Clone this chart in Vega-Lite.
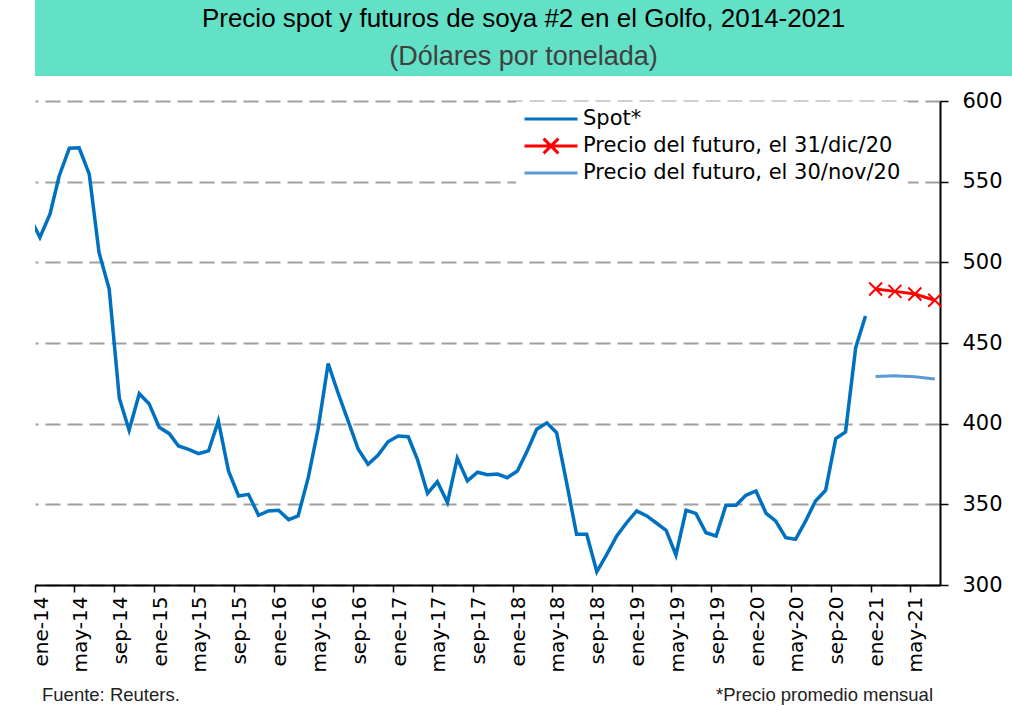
{
  "$schema": "https://vega.github.io/schema/vega-lite/v6.json",
  "background": "#FFFFFF",
  "padding": {"left": 31, "top": 0, "right": 0, "bottom": 0},
  "spacing": 14,
  "resolve": {"legend": {"color": "independent"}},
  "config": {"view": {"stroke": null}, "font": "DejaVu Sans"},
  "datasets": {
    "soya": [
      {"date": "2013-12-16", "value": 528, "series": "Spot*"},
      {"date": "2014-01-16", "value": 515.5, "series": "Spot*"},
      {"date": "2014-02-16", "value": 530, "series": "Spot*"},
      {"date": "2014-03-16", "value": 553.5, "series": "Spot*"},
      {"date": "2014-04-16", "value": 570.7, "series": "Spot*"},
      {"date": "2014-05-16", "value": 571, "series": "Spot*"},
      {"date": "2014-06-16", "value": 554.6, "series": "Spot*"},
      {"date": "2014-07-16", "value": 506, "series": "Spot*"},
      {"date": "2014-08-16", "value": 483.4, "series": "Spot*"},
      {"date": "2014-09-16", "value": 415.8, "series": "Spot*"},
      {"date": "2014-10-16", "value": 395.9, "series": "Spot*"},
      {"date": "2014-11-16", "value": 418.6, "series": "Spot*"},
      {"date": "2014-12-16", "value": 412.4, "series": "Spot*"},
      {"date": "2015-01-16", "value": 397.8, "series": "Spot*"},
      {"date": "2015-02-16", "value": 393.8, "series": "Spot*"},
      {"date": "2015-03-16", "value": 386.2, "series": "Spot*"},
      {"date": "2015-04-16", "value": 384.1, "series": "Spot*"},
      {"date": "2015-05-16", "value": 381.4, "series": "Spot*"},
      {"date": "2015-06-16", "value": 383.1, "series": "Spot*"},
      {"date": "2015-07-16", "value": 401.7, "series": "Spot*"},
      {"date": "2015-08-16", "value": 370.7, "series": "Spot*"},
      {"date": "2015-09-16", "value": 355.2, "series": "Spot*"},
      {"date": "2015-10-16", "value": 356.2, "series": "Spot*"},
      {"date": "2015-11-16", "value": 343.2, "series": "Spot*"},
      {"date": "2015-12-16", "value": 345.9, "series": "Spot*"},
      {"date": "2016-01-16", "value": 346.3, "series": "Spot*"},
      {"date": "2016-02-16", "value": 340.5, "series": "Spot*"},
      {"date": "2016-03-16", "value": 342.8, "series": "Spot*"},
      {"date": "2016-04-16", "value": 366.5, "series": "Spot*"},
      {"date": "2016-05-16", "value": 396.5, "series": "Spot*"},
      {"date": "2016-06-16", "value": 437.3, "series": "Spot*"},
      {"date": "2016-07-16", "value": 419.2, "series": "Spot*"},
      {"date": "2016-08-16", "value": 401.7, "series": "Spot*"},
      {"date": "2016-09-16", "value": 384.1, "series": "Spot*"},
      {"date": "2016-10-16", "value": 374.8, "series": "Spot*"},
      {"date": "2016-11-16", "value": 380.6, "series": "Spot*"},
      {"date": "2016-12-16", "value": 388.8, "series": "Spot*"},
      {"date": "2017-01-16", "value": 392.4, "series": "Spot*"},
      {"date": "2017-02-16", "value": 391.9, "series": "Spot*"},
      {"date": "2017-03-16", "value": 377.9, "series": "Spot*"},
      {"date": "2017-04-16", "value": 356.8, "series": "Spot*"},
      {"date": "2017-05-16", "value": 364, "series": "Spot*"},
      {"date": "2017-06-16", "value": 351.2, "series": "Spot*"},
      {"date": "2017-07-16", "value": 378.5, "series": "Spot*"},
      {"date": "2017-08-16", "value": 364.5, "series": "Spot*"},
      {"date": "2017-09-16", "value": 369.9, "series": "Spot*"},
      {"date": "2017-10-16", "value": 368.4, "series": "Spot*"},
      {"date": "2017-11-16", "value": 368.8, "series": "Spot*"},
      {"date": "2017-12-16", "value": 366.5, "series": "Spot*"},
      {"date": "2018-01-16", "value": 370.7, "series": "Spot*"},
      {"date": "2018-02-16", "value": 383.5, "series": "Spot*"},
      {"date": "2018-03-16", "value": 396.5, "series": "Spot*"},
      {"date": "2018-04-16", "value": 400.5, "series": "Spot*"},
      {"date": "2018-05-16", "value": 394.4, "series": "Spot*"},
      {"date": "2018-06-16", "value": 363, "series": "Spot*"},
      {"date": "2018-07-16", "value": 331.4, "series": "Spot*"},
      {"date": "2018-08-16", "value": 331.4, "series": "Spot*"},
      {"date": "2018-09-16", "value": 308.2, "series": "Spot*"},
      {"date": "2018-10-16", "value": 318.8, "series": "Spot*"},
      {"date": "2018-11-16", "value": 330.4, "series": "Spot*"},
      {"date": "2018-12-16", "value": 338.6, "series": "Spot*"},
      {"date": "2019-01-16", "value": 345.9, "series": "Spot*"},
      {"date": "2019-02-16", "value": 342.8, "series": "Spot*"},
      {"date": "2019-03-16", "value": 338.6, "series": "Spot*"},
      {"date": "2019-04-16", "value": 333.9, "series": "Spot*"},
      {"date": "2019-05-16", "value": 318.6, "series": "Spot*"},
      {"date": "2019-06-16", "value": 346.3, "series": "Spot*"},
      {"date": "2019-07-16", "value": 344.4, "series": "Spot*"},
      {"date": "2019-08-16", "value": 332.4, "series": "Spot*"},
      {"date": "2019-09-16", "value": 330.4, "series": "Spot*"},
      {"date": "2019-10-16", "value": 349.4, "series": "Spot*"},
      {"date": "2019-11-16", "value": 349.4, "series": "Spot*"},
      {"date": "2019-12-16", "value": 355.6, "series": "Spot*"},
      {"date": "2020-01-16", "value": 358.3, "series": "Spot*"},
      {"date": "2020-02-16", "value": 344.4, "series": "Spot*"},
      {"date": "2020-03-16", "value": 339.7, "series": "Spot*"},
      {"date": "2020-04-16", "value": 329.3, "series": "Spot*"},
      {"date": "2020-05-16", "value": 328.3, "series": "Spot*"},
      {"date": "2020-06-16", "value": 339.7, "series": "Spot*"},
      {"date": "2020-07-16", "value": 352.1, "series": "Spot*"},
      {"date": "2020-08-16", "value": 358.7, "series": "Spot*"},
      {"date": "2020-09-16", "value": 390.7, "series": "Spot*"},
      {"date": "2020-10-16", "value": 394.8, "series": "Spot*"},
      {"date": "2020-11-16", "value": 447.1, "series": "Spot*"},
      {"date": "2020-12-16", "value": 466.7, "series": "Spot*"},
      {"date": "2021-01-16", "value": 483.5, "series": "Precio del futuro, el 31/dic/20"},
      {"date": "2021-03-16", "value": 482, "series": "Precio del futuro, el 31/dic/20"},
      {"date": "2021-05-16", "value": 480.4, "series": "Precio del futuro, el 31/dic/20"},
      {"date": "2021-07-16", "value": 476.5, "series": "Precio del futuro, el 31/dic/20"},
      {"date": "2021-01-16", "value": 429.2, "series": "Precio del futuro, el 30/nov/20"},
      {"date": "2021-03-16", "value": 429.7, "series": "Precio del futuro, el 30/nov/20"},
      {"date": "2021-05-16", "value": 429.1, "series": "Precio del futuro, el 30/nov/20"},
      {"date": "2021-07-16", "value": 427.7, "series": "Precio del futuro, el 30/nov/20"}
    ]
  },
  "vconcat": [
    {
      "width": 977,
      "height": 76,
      "view": {"fill": "#63E1C6", "stroke": null},
      "data": {"values": [
        {"row": "a", "text": "Precio spot y futuros de soya #2 en el Golfo, 2014-2021"},
        {"row": "b", "text": "(Dólares por tonelada)"}
      ]},
      "encoding": {
        "y": {"field": "row", "type": "nominal", "scale": {"domain": ["a", "b"]}, "axis": null},
        "text": {"field": "text"}
      },
      "layer": [
        {"transform": [{"filter": "datum.row == 'a'"}], "mark": {"type": "text", "font": "Liberation Sans", "fontSize": 26, "color": "#000000"}},
        {"transform": [{"filter": "datum.row == 'b'"}], "mark": {"type": "text", "font": "Liberation Sans", "fontSize": 27, "color": "#404040"}}
      ]
    },
    {
      "width": 905,
      "height": 484,
      "data": {"name": "soya"},
      "layer": [
        {
          "transform": [{"filter": "datum.series == 'Spot*'"}],
          "mark": {"type": "line", "strokeWidth": 3.5, "clip": true},
          "encoding": {
            "x": {
              "field": "date", "type": "temporal",
              "scale": {"type": "utc", "domain": [{"year": 2014, "month": 1, "date": 1, "utc": true}, {"year": 2021, "month": 8, "date": 1, "utc": true}]},
              "axis": {
                "values": [
                  {"year": 2014, "month": 1, "date": 1, "utc": true}, {"year": 2014, "month": 5, "date": 1, "utc": true}, {"year": 2014, "month": 9, "date": 1, "utc": true},
                  {"year": 2015, "month": 1, "date": 1, "utc": true}, {"year": 2015, "month": 5, "date": 1, "utc": true}, {"year": 2015, "month": 9, "date": 1, "utc": true},
                  {"year": 2016, "month": 1, "date": 1, "utc": true}, {"year": 2016, "month": 5, "date": 1, "utc": true}, {"year": 2016, "month": 9, "date": 1, "utc": true},
                  {"year": 2017, "month": 1, "date": 1, "utc": true}, {"year": 2017, "month": 5, "date": 1, "utc": true}, {"year": 2017, "month": 9, "date": 1, "utc": true},
                  {"year": 2018, "month": 1, "date": 1, "utc": true}, {"year": 2018, "month": 5, "date": 1, "utc": true}, {"year": 2018, "month": 9, "date": 1, "utc": true},
                  {"year": 2019, "month": 1, "date": 1, "utc": true}, {"year": 2019, "month": 5, "date": 1, "utc": true}, {"year": 2019, "month": 9, "date": 1, "utc": true},
                  {"year": 2020, "month": 1, "date": 1, "utc": true}, {"year": 2020, "month": 5, "date": 1, "utc": true}, {"year": 2020, "month": 9, "date": 1, "utc": true},
                  {"year": 2021, "month": 1, "date": 1, "utc": true}, {"year": 2021, "month": 5, "date": 1, "utc": true}
                ],
                "labelExpr": "['ene','feb','mar','abr','may','jun','jul','ago','sep','oct','nov','dic'][utcmonth(datum.value)] + '-' + utcFormat(datum.value, '%y')",
                "labelAngle": -90,
                "labelFont": "DejaVu Sans",
                "labelFontSize": 20,
                "labelColor": "#000000",
                "labelPadding": 4,
                "labelOffset": 6,
                "labelOverlap": false,
                "labelFlush": false,
                "labelBound": false,
                "tickSize": 7,
                "tickColor": "#000000",
                "tickWidth": 1.5,
                "domainColor": "#000000",
                "domainWidth": 2,
                "grid": false,
                "title": null
              }
            },
            "y": {
              "field": "value", "type": "quantitative",
              "scale": {"domain": [300, 600], "nice": false, "zero": false},
              "axis": {
                "orient": "right",
                "values": [300, 350, 400, 450, 500, 550, 600],
                "grid": true,
                "gridDash": [15, 7],
                "gridColor": "#A0A0A0",
                "gridWidth": 2,
                "domainColor": "#000000",
                "domainWidth": 2,
                "tickSize": 8,
                "tickColor": "#000000",
                "tickWidth": 1.5,
                "labelFont": "DejaVu Sans",
                "labelFontSize": 21,
                "labelColor": "#000000",
                "labelPadding": 14,
                "title": null
              }
            },
            "color": {
              "field": "series", "type": "nominal",
              "scale": {"domain": ["Spot*", "Precio del futuro, el 31/dic/20", "Precio del futuro, el 30/nov/20"], "range": ["#0070C0", "#FF0000", "#5B9BD5"]},
              "legend": {
                "title": null,
                "orient": "none",
                "legendX": 481,
                "legendY": 0.5,
                "direction": "vertical",
                "labelFont": "DejaVu Sans",
                "labelFontSize": 21,
                "labelColor": "#000000",
                "labelLimit": 600,
                "labelOffset": 4,
                "symbolSize": 2809,
                "symbolStrokeWidth": 3,
                "clipHeight": 21,
                "rowPadding": 5,
                "fillColor": "#FFFFFF",
                "padding": 7,
                "encode": {
                  "symbols": {
                    "update": {
                      "shape": {"signal": "datum.value === 'Precio del futuro, el 31/dic/20' ? 'M-1,0L1,0M-0.28,-0.28L0.28,0.28M-0.28,0.28L0.28,-0.28' : 'M-1,0L1,0'"},
                      "fill": {"value": "transparent"},
                      "strokeWidth": {"value": 3}
                    }
                  }
                }
              }
            }
          }
        },
        {
          "transform": [{"filter": "datum.series == 'Precio del futuro, el 30/nov/20'"}],
          "mark": {"type": "line", "strokeWidth": 3},
          "encoding": {
            "x": {"field": "date", "type": "temporal"},
            "y": {"field": "value", "type": "quantitative"},
            "color": {"field": "series", "type": "nominal"}
          }
        },
        {
          "transform": [{"filter": "datum.series == 'Precio del futuro, el 31/dic/20'"}],
          "mark": {"type": "line", "strokeWidth": 3},
          "encoding": {
            "x": {"field": "date", "type": "temporal"},
            "y": {"field": "value", "type": "quantitative"},
            "color": {"field": "series", "type": "nominal"}
          }
        },
        {
          "transform": [{"filter": "datum.series == 'Precio del futuro, el 31/dic/20'"}],
          "mark": {"type": "point", "shape": "M-1,-1L1,1M-1,1L1,-1", "size": 169, "filled": false, "strokeWidth": 2, "color": "#FF0000", "opacity": 1},
          "encoding": {
            "x": {"field": "date", "type": "temporal"},
            "y": {"field": "value", "type": "quantitative"}
          }
        }
      ]
    },
    {
      "width": 898,
      "height": 18,
      "data": {"values": [
        {"pos": 0, "text": "Fuente: Reuters."},
        {"pos": 1, "text": "*Precio promedio mensual"}
      ]},
      "encoding": {
        "x": {"field": "pos", "type": "quantitative", "scale": {"domain": [0, 1]}, "axis": null},
        "text": {"field": "text"}
      },
      "layer": [
        {"transform": [{"filter": "datum.pos == 0"}], "mark": {"type": "text", "align": "left", "dx": 7, "font": "Liberation Sans", "fontSize": 18.5, "color": "#222222"}},
        {"transform": [{"filter": "datum.pos == 1"}], "mark": {"type": "text", "align": "right", "font": "Liberation Sans", "fontSize": 18.5, "color": "#222222"}}
      ]
    }
  ]
}
